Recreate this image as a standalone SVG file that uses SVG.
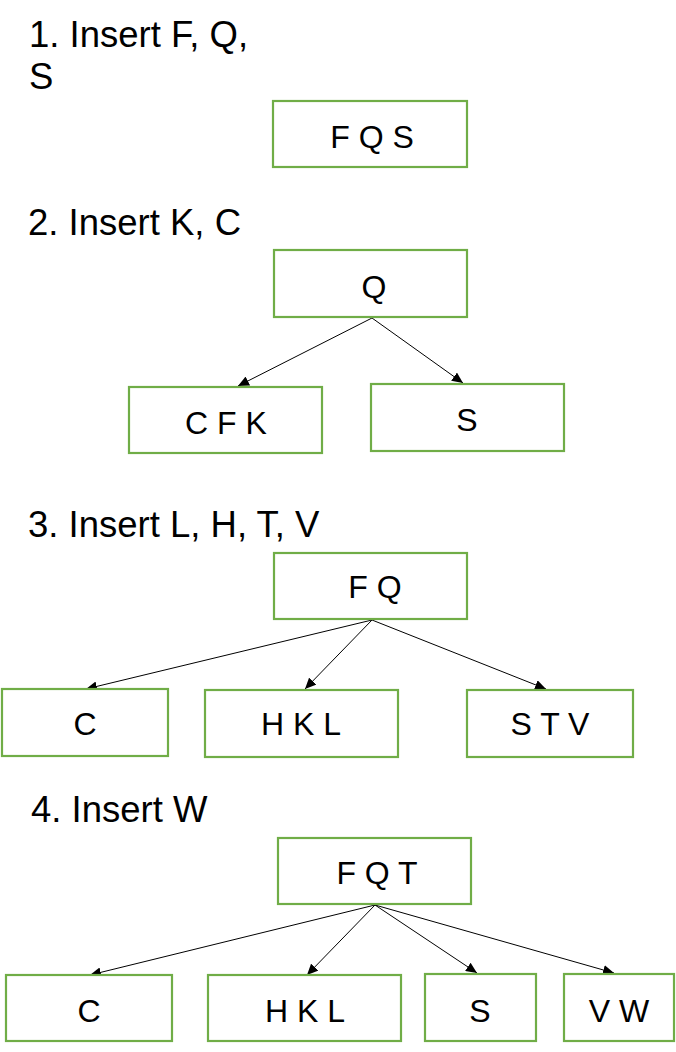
<svg xmlns="http://www.w3.org/2000/svg" width="676" height="1052" viewBox="0 0 676 1052">
<defs>
<style>
.title{font-family:"Liberation Sans",Arial,sans-serif;font-size:36.5px;fill:#000}
.box{fill:#fff;stroke:#70AD47;stroke-width:2.2}
.lbl{font-family:"Liberation Sans",Arial,sans-serif;font-size:32px;fill:#000;text-anchor:middle}
.edge{stroke:#000;stroke-width:1;fill:none;marker-end:url(#ah)}
</style>
<marker id="ah" markerUnits="userSpaceOnUse" markerWidth="12" markerHeight="10" refX="11" refY="5" orient="auto">
<path d="M0,0 L11,5 L0,10 z" fill="#000"/>
</marker>
</defs>
<rect width="676" height="1052" fill="#fff"/>
<g id="titles">
<text class="title" x="29" y="47">1. Insert F, Q,</text>
<text class="title" x="29" y="89">S</text>
<text class="title" x="28" y="235">2. Insert K, C</text>
<text class="title" x="28" y="537">3. Insert L, H, T, V</text>
<text class="title" x="31" y="822">4. Insert W</text>
</g>
<g id="connectors">
<line class="edge" x1="372" y1="318" x2="238" y2="386"/>
<line class="edge" x1="372" y1="318" x2="463" y2="383"/>
<line class="edge" x1="372" y1="620" x2="86" y2="689"/>
<line class="edge" x1="372" y1="620" x2="305" y2="689"/>
<line class="edge" x1="372" y1="620" x2="546" y2="689"/>
<line class="edge" x1="375" y1="905" x2="90" y2="975"/>
<line class="edge" x1="375" y1="905" x2="307" y2="975"/>
<line class="edge" x1="375" y1="905" x2="477" y2="973"/>
<line class="edge" x1="375" y1="905" x2="614" y2="973"/>
</g>
<g id="n1-FQS"><rect class="box" x="273" y="101" width="194" height="66"/><text class="lbl" x="372" y="148">F Q S</text></g>
<g id="n2-Q"><rect class="box" x="274" y="250" width="193" height="67"/><text class="lbl" x="374" y="298">Q</text></g>
<g id="n2-CFK"><rect class="box" x="129" y="387" width="193" height="66"/><text class="lbl" x="226" y="434">C F K</text></g>
<g id="n2-S"><rect class="box" x="371" y="384" width="193" height="67"/><text class="lbl" x="467" y="431">S</text></g>
<g id="n3-FQ"><rect class="box" x="274" y="553" width="193" height="66"/><text class="lbl" x="375" y="598">F Q</text></g>
<g id="n3-C"><rect class="box" x="2" y="689" width="166" height="67"/><text class="lbl" x="85" y="735">C</text></g>
<g id="n3-HKL"><rect class="box" x="205" y="690" width="193" height="67"/><text class="lbl" x="301" y="735">H K L</text></g>
<g id="n3-STV"><rect class="box" x="467" y="690" width="166" height="67"/><text class="lbl" x="550" y="735">S T V</text></g>
<g id="n4-FQT"><rect class="box" x="278" y="838" width="193" height="66"/><text class="lbl" x="377" y="884">F Q T</text></g>
<g id="n4-C"><rect class="box" x="6" y="975" width="166" height="66"/><text class="lbl" x="89" y="1022">C</text></g>
<g id="n4-HKL"><rect class="box" x="208" y="975" width="193" height="66"/><text class="lbl" x="305" y="1022">H K L</text></g>
<g id="n4-S"><rect class="box" x="425" y="974" width="111" height="67"/><text class="lbl" x="480" y="1022">S</text></g>
<g id="n4-VW"><rect class="box" x="564" y="974" width="110" height="67"/><text class="lbl" x="619" y="1022">V W</text></g>
</svg>
